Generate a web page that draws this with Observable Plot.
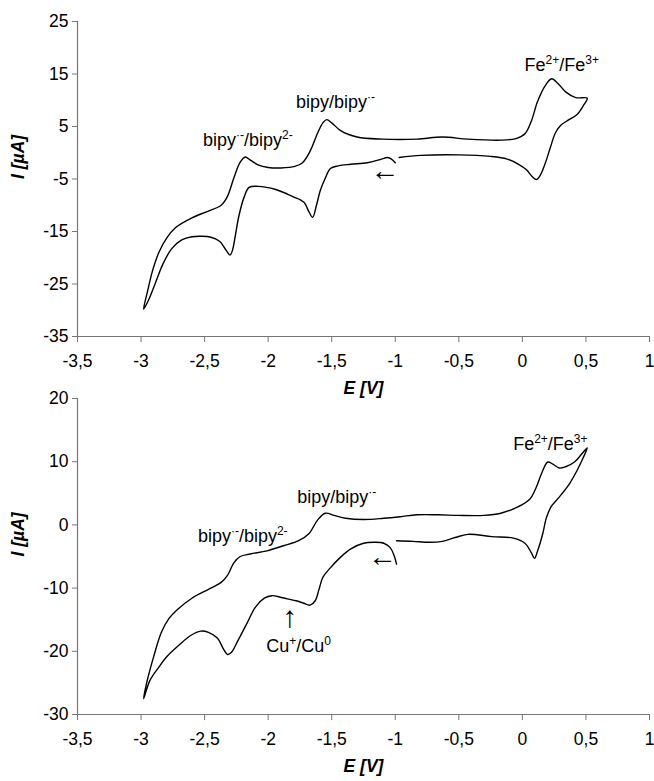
<!DOCTYPE html>
<html><head><meta charset="utf-8">
<script src="https://cdn.jsdelivr.net/npm/d3@7"></script>
<script src="https://cdn.jsdelivr.net/npm/@observablehq/plot@0.6"></script>
<style>
body{margin:0;background:#fff;}
#chart svg{display:block;overflow:visible;}
</style>
</head><body><div id="chart"></div>
<script>
// ---- axis ticks ----
const xTicks = [-3.5, -3, -2.5, -2, -1.5, -1, -0.5, 0, 0.5, 1];
const topYTicks = [-35, -25, -15, -5, 5, 15, 25];
const botYTicks = [-30, -20, -10, 0, 10, 20];

// ---- top voltammogram (E in V, I in µA), in scan order ----
const topE = [-1.00,-1.03,-1.06,-1.12,-1.22,-1.35,-1.45,-1.51,-1.55,-1.59,-1.62,-1.65,-1.68,-1.72,-1.81,-1.94,-2.08,-2.15,-2.19,-2.23,-2.26,-2.28,-2.30,-2.33,-2.38,-2.45,-2.52,-2.60,-2.68,-2.76,-2.83,-2.89,-2.94,-2.98,
  -2.95,-2.91,-2.86,-2.80,-2.73,-2.60,-2.47,-2.37,-2.32,-2.27,-2.22,-2.18,-2.14,-2.08,-2.00,-1.90,-1.79,-1.73,-1.67,-1.61,-1.57,-1.54,-1.50,-1.43,-1.30,-1.10,-0.83,-0.63,-0.43,-0.17,-0.05,0.02,0.07,0.12,0.18,0.23,0.28,0.34,0.42,0.51,
  0.48,0.43,0.36,0.30,0.26,0.22,0.18,0.14,0.11,0.08,0.03,-0.03,-0.12,-0.25,-0.50,-0.80,-0.97];
const topI = [-1.9,-1.2,-0.9,-1.3,-1.9,-2.2,-2.5,-3.0,-4.8,-7.2,-10.0,-12.3,-11.2,-9.4,-8.3,-7.0,-6.4,-6.6,-8.5,-12.0,-16.0,-18.5,-19.5,-18.6,-16.9,-16.1,-15.9,-16.0,-16.6,-18.3,-21.3,-25.0,-28.0,-29.8,
  -26.5,-22.5,-19.0,-16.3,-14.3,-12.4,-11.1,-10.0,-8.3,-4.8,-1.8,-0.8,-1.4,-2.3,-2.8,-2.9,-2.6,-1.9,0.3,3.8,5.7,6.3,5.7,4.2,3.0,2.6,2.6,3.0,2.6,2.4,2.7,3.6,6.0,9.8,12.8,14.1,13.2,11.6,10.5,10.4,
  9.0,7.3,6.2,5.2,3.8,1.0,-2.0,-4.3,-5.1,-4.6,-3.2,-2.2,-1.2,-0.7,-0.4,-0.5,-0.9];

// ---- bottom voltammogram ----
const botE = [-0.99,-1.01,-1.04,-1.09,-1.16,-1.25,-1.35,-1.43,-1.52,-1.57,-1.60,-1.63,-1.67,-1.72,-1.78,-1.85,-1.91,-1.97,-2.03,-2.10,-2.17,-2.24,-2.29,-2.32,-2.35,-2.40,-2.47,-2.53,-2.61,-2.70,-2.80,-2.86,-2.93,-2.98,
  -2.95,-2.90,-2.84,-2.78,-2.72,-2.60,-2.47,-2.37,-2.32,-2.27,-2.22,-2.14,-2.01,-1.88,-1.76,-1.68,-1.61,-1.55,-1.48,-1.39,-1.25,-1.09,-0.96,-0.83,-0.66,-0.50,-0.30,-0.17,-0.04,0.06,0.11,0.15,0.20,0.24,0.29,0.34,0.41,0.47,0.51,
  0.48,0.43,0.37,0.29,0.23,0.19,0.16,0.12,0.095,0.07,0.02,-0.07,-0.24,-0.43,-0.53,-0.63,-0.73,-0.86,-0.99];
const botI = [-6.2,-4.8,-3.6,-2.9,-2.75,-2.9,-3.8,-5.1,-7.0,-8.3,-10.2,-12.0,-12.7,-12.4,-12.0,-11.7,-11.4,-11.2,-11.6,-13.0,-15.7,-18.4,-20.2,-20.5,-19.7,-17.9,-17.0,-16.8,-17.5,-19.0,-20.9,-22.5,-24.6,-27.5,
  -24.5,-20.8,-17.0,-14.8,-13.5,-11.6,-10.2,-9.1,-8.0,-6.0,-5.0,-4.6,-4.1,-3.3,-2.5,-1.4,0.8,1.85,1.5,1.05,0.85,1.05,1.3,1.6,1.6,1.5,1.5,1.85,2.8,4.1,6.0,8.1,9.95,9.6,9.0,9.2,9.95,11.3,12.2,
  10.7,8.6,6.5,4.4,3.0,1.2,-1.4,-4.1,-5.3,-4.4,-2.9,-2.1,-1.85,-1.5,-2.0,-2.6,-2.75,-2.6,-2.5];

// ---- annotations ----
const topLabels = ["bipy^{·-}/bipy^{2-}", "bipy/bipy^{·-}", "Fe^{2+}/Fe^{3+}"];
const topLabelE = [-2.16, -1.47, 0.31];
const topLabelI = [2.3, 9.6, 16.6];
const topArrows = ["←"];
const topArrowE = [-1.08];
const topArrowI = [-3.4];

const botLabels = ["bipy^{·-}/bipy^{2-}", "bipy/bipy^{·-}", "Fe^{2+}/Fe^{3+}", "Cu^{+}/Cu^{0}"];
const botLabelE = [-2.20, -1.46, 0.22, -1.76];
const botLabelI = [-1.75, 4.3, 12.8, -19.2];
const botArrows = ["←", "↑"];
const botArrowE = [-1.10, -1.83];
const botArrowI = [-5.1, -14.6];

const xTitle = "E [V]";
const yTitle = "I [µA]";

const FONT = "'Liberation Sans', Arial, sans-serif";
const fmt = d => String(d).replace(".", ",");

function supify(svg) {
  const NS = "http://www.w3.org/2000/svg";
  svg.querySelectorAll("text").forEach(t => {
    const s = t.textContent;
    if (!s.includes("^{")) return;
    while (t.firstChild) t.removeChild(t.firstChild);
    const parts = s.split(/\^\{([^}]*)\}/);
    let shifted = false;
    parts.forEach((p, i) => {
      if (p === "") return;
      const ts = document.createElementNS(NS, "tspan");
      ts.textContent = p;
      if (i % 2 === 1) { ts.setAttribute("font-size", "12"); ts.setAttribute("dy", "-7"); shifted = true; }
      else if (shifted) { ts.setAttribute("dy", "7"); shifted = false; }
      t.appendChild(ts);
    });
  });
}

function cv({E, I, yTicks, yDomain, height, marginTop, marginBottom, labels, labelE, labelI, arrows, arrowE, arrowI}) {
  const data = E.map((e, i) => ({E: e, I: I[i]}));
  const lab = labels.map((t, i) => ({t, E: labelE[i], I: labelI[i]}));
  const arr = arrows.map((t, i) => ({t, E: arrowE[i], I: arrowI[i]}));
  const svg = Plot.plot({
    width: 654, height, marginLeft: 77, marginRight: 5, marginTop, marginBottom,
    style: {fontFamily: FONT, fontSize: "17px", color: "black", background: "white", overflow: "visible"},
    x: {domain: [-3.5, 1]},
    y: {domain: yDomain},
    marks: [
      Plot.ruleX([-3.5], {stroke: "#777", strokeWidth: 1.2}),
      Plot.ruleY([yDomain[0]], {stroke: "#777", strokeWidth: 1.2}),
      Plot.axisX({ticks: xTicks, tickFormat: fmt, tickSize: 6, tickPadding: 12, stroke: "#777", fontSize: 17.5, label: null}),
      Plot.axisY({ticks: yTicks, tickFormat: fmt, tickSize: 5, tickPadding: 4, stroke: "#777", fontSize: 17.5, label: null}),
      Plot.line(data, {x: "E", y: "I", curve: "catmull-rom", stroke: "black", strokeWidth: 1.4}),
      Plot.text(lab, {x: "E", y: "I", text: "t", fontSize: 18}),
      Plot.text(arr.filter(d => d.t === "←"), {x: "E", y: "I", text: "t", fontSize: 29}),
      Plot.text(arr.filter(d => d.t === "↑"), {x: "E", y: "I", text: "t", fontSize: 30, fontWeight: 300}),
      Plot.text([xTitle], {text: d => d, frameAnchor: "bottom", dy: 57, fontWeight: "bold", fontStyle: "italic", fontSize: 17.5}),
      Plot.text([yTitle], {text: d => d, frameAnchor: "left", dx: -59, rotate: -90, fontWeight: "bold", fontStyle: "italic", fontSize: 17.5})
    ]
  });
  supify(svg);
  return svg;
}

const root = document.getElementById("chart");
root.appendChild(cv({E: topE, I: topI, yTicks: topYTicks, yDomain: [-35, 25], height: 390, marginTop: 21, marginBottom: 54,
  labels: topLabels, labelE: topLabelE, labelI: topLabelI, arrows: topArrows, arrowE: topArrowE, arrowI: topArrowI}));
root.appendChild(cv({E: botE, I: botI, yTicks: botYTicks, yDomain: [-30, 20], height: 391, marginTop: 8, marginBottom: 67,
  labels: botLabels, labelE: botLabelE, labelI: botLabelI, arrows: botArrows, arrowE: botArrowE, arrowI: botArrowI}));
</script>
</body></html>
